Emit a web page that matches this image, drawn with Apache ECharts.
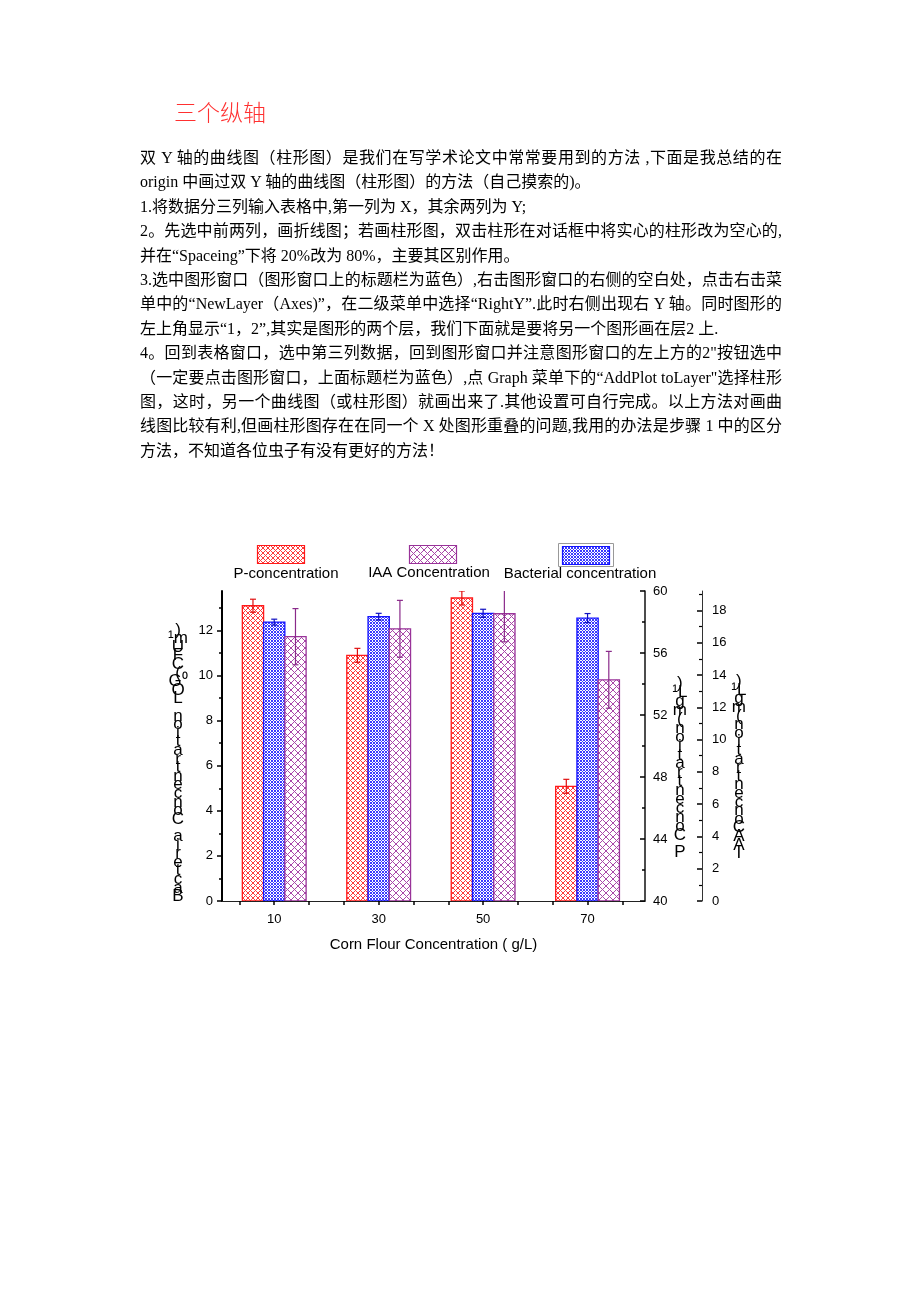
<!DOCTYPE html>
<html>
<head>
<meta charset="utf-8">
<script src="https://cdn.jsdelivr.net/npm/echarts@6/dist/echarts.min.js"></script>
<style>
html,body{margin:0;padding:0;background:#fff;}
#chart{position:absolute;left:0;top:0;width:920px;height:1302px;}
#title{position:absolute;left:174px;top:96px;font-size:23px;font-family:'Noto Sans CJK SC',sans-serif;font-weight:300;color:#ff3030;line-height:30px;white-space:nowrap;}
#doc{position:absolute;left:140px;top:146px;width:642px;font-size:16px;font-family:'Liberation Serif','Noto Sans CJK SC',serif;line-height:24.4px;color:#000;}
#doc div{white-space:nowrap;height:24.4px;}
#doc div.j{text-align:justify;text-align-last:justify;}
</style>
</head>
<body>
<div id="chart"></div>
<div id="title">三个纵轴</div>
<div id="doc">
<div class="j">双 Y 轴的曲线图（柱形图）是我们在写学术论文中常常要用到的方法 ,下面是我总结的在</div>
<div>origin 中画过双 Y 轴的曲线图（柱形图）的方法（自己摸索的)。</div>
<div>1.将数据分三列输入表格中,第一列为 X，其余两列为 Y;</div>
<div class="j">2。先选中前两列，画折线图；若画柱形图，双击柱形在对话框中将实心的柱形改为空心的,</div>
<div>并在“Spaceing”下将 20%改为 80%，主要其区别作用。</div>
<div class="j">3.选中图形窗口（图形窗口上的标题栏为蓝色）,右击图形窗口的右侧的空白处，点击右击菜</div>
<div class="j">单中的“NewLayer（Axes)”，在二级菜单中选择“RightY”.此时右侧出现右 Y 轴。同时图形的</div>
<div>左上角显示“1，2”,其实是图形的两个层，我们下面就是要将另一个图形画在层2 上.</div>
<div class="j">4。回到表格窗口，选中第三列数据，回到图形窗口并注意图形窗口的左上方的2"按钮选中</div>
<div class="j">（一定要点击图形窗口，上面标题栏为蓝色）,点 Graph 菜单下的“AddPlot toLayer"选择柱形</div>
<div class="j">图，这时，另一个曲线图（或柱形图）就画出来了.其他设置可自行完成。以上方法对画曲</div>
<div class="j">线图比较有利,但画柱形图存在在同一个 X 处图形重叠的问题,我用的办法是步骤 1 中的区分</div>
<div>方法，不知道各位虫子有没有更好的方法！</div>
</div>
<script>
// ---------------- data ----------------
const xValues = [10, 30, 50, 70];
const seriesNames = ['P-concentration', 'IAA Concentration', 'Bacterial concentration'];
const pConc = [59.05, 55.85, 59.55, 47.40];
const pErr = [0.42, 0.45, 0.45, 0.45];
const bactConc = [12.37, 12.61, 12.76, 12.55];
const bactErr = [0.13, 0.15, 0.18, 0.20];
const iaaConc = [16.37, 16.86, 17.79, 13.70];
const iaaErr = [1.74, 1.76, 1.74, 1.76];
const xTickValues = [3.333, 10, 16.667, 23.333, 30, 36.667, 43.333, 50, 56.667, 63.333, 70, 76.667];
const xLabelValues = [10, 30, 50, 70];
const leftTickValues = [0, 2, 4, 6, 8, 10, 12];
const pTickValues = [40, 44, 48, 52, 56, 60];
const iaaTickValues = [0, 2, 4, 6, 8, 10, 12, 14, 16, 18];
const xAxisName = 'Corn Flour Concentration ( g/L)';
const leftAxisName = [')', '¹m', 'U', 'F', 'C', '(', 'G⁰', 'O', 'L', ' ', 'n', 'o', 'i', 't', 'a', 'r', 't', 'n', 'e', 'c', 'n', 'o', 'C', ' ', 'a', 'i', 'r', 'e', 't', 'c', 'a', 'B'];
const pAxisName = [')', '¹L', 'g', 'm', '(', 'n', 'o', 'i', 't', 'a', 'r', 't', 'n', 'e', 'c', 'n', 'o', 'C', ' ', 'P'];
const iaaAxisName = [')', '¹L', 'g', 'm', '(', 'n', 'o', 'i', 't', 'a', 'r', 't', 'n', 'e', 'c', 'n', 'o', 'C', 'A', 'A', 'I'];

// ---------------- styles ----------------
const RED = '#ff1a1a', BLUE = '#1414ff', PURPLE = '#993399';
const BAR_W = 4.07; // bar width in x units
function makePattern(size, color) {
  const c = document.createElement('canvas');
  c.width = size; c.height = size;
  const ctx = c.getContext('2d');
  ctx.fillStyle = '#ffffff';
  ctx.fillRect(0, 0, size, size);
  ctx.fillStyle = color;
  for (let x = 0; x < size; x++) {
    for (let y = 0; y < size; y++) {
      if ((x + y) % size === 0 || (x - y + size) % size === 0) ctx.fillRect(x, y, 1, 1);
    }
  }
  return { image: c, repeat: 'repeat' };
}
const redPat = makePattern(5, '#ff3a3a');
const bluePat = makePattern(3, '#3a3aff');
const purplePat = makePattern(7, '#a848a8');

// vertical stacked axis name, shifted down by leading blank lines
function stackName(chars, shiftLines) {
  return new Array(shiftLines).fill('').concat(chars).join('\n');
}

function barSeries(name, vals, yAxisIndex, slot, pat, stroke) {
  return {
    type: 'custom', name: name, xAxisIndex: 0, yAxisIndex: yAxisIndex, clip: true, z: 2,
    data: xValues.map((x, i) => [x, vals[i]]),
    encode: { x: 0, y: 1 },
    renderItem: function (params, api) {
      const x = api.value(0) + slot * BAR_W;
      const v = api.value(1);
      const w = api.size([BAR_W, 0])[0];
      const top = api.coord([x, v]);
      const cs = params.coordSys;
      const base = cs.y + cs.height;
      return {
        type: 'rect',
        shape: { x: top[0] - w / 2, y: top[1], width: w, height: base - top[1] },
        style: { fill: pat, stroke: stroke, lineWidth: 1.3 }
      };
    }
  };
}
function errSeries(name, vals, errs, yAxisIndex, slot, color) {
  return {
    type: 'custom', name: name + ' error', xAxisIndex: 0, yAxisIndex: yAxisIndex, clip: true, z: 5,
    data: xValues.map((x, i) => [x, vals[i], errs[i]]),
    encode: { x: 0, y: 1 },
    renderItem: function (params, api) {
      const x = api.value(0) + slot * BAR_W;
      const v = api.value(1), e = api.value(2);
      const hi = api.coord([x, v + e]);
      const lo = api.coord([x, v - e]);
      const cap = 3;
      const st = { stroke: color, lineWidth: 1.2 };
      return {
        type: 'group',
        children: [
          { type: 'line', shape: { x1: hi[0], y1: hi[1], x2: lo[0], y2: lo[1] }, style: st },
          { type: 'line', shape: { x1: hi[0] - cap, y1: hi[1], x2: hi[0] + cap, y2: hi[1] }, style: st },
          { type: 'line', shape: { x1: lo[0] - cap, y1: lo[1], x2: lo[0] + cap, y2: lo[1] }, style: st }
        ]
      };
    }
  };
}

const FONT = 'Liberation Sans';
const labelStyle = { color: '#000', fontFamily: FONT, fontSize: 13 };

const chart = echarts.init(document.getElementById('chart'), null, { renderer: 'canvas' });
chart.setOption({
  animation: false,
  backgroundColor: 'transparent',
  grid: { left: 222, right: 275, top: 591, bottom: 401, containLabel: false },
  xAxis: {
    type: 'value', min: 0, max: 81,
    name: xAxisName, nameLocation: 'middle', nameGap: 36,
    nameTextStyle: { color: '#000', fontFamily: FONT, fontSize: 15 },
    axisLine: { show: true, lineStyle: { color: '#222', width: 1 } },
    axisTick: { show: true, customValues: xTickValues, length: 4, lineStyle: { color: '#000', width: 1.5 } },
    axisLabel: { customValues: xLabelValues, margin: 12, ...labelStyle },
    splitLine: { show: false }
  },
  yAxis: [
    {
      type: 'value', position: 'left', min: 0, max: 13.75, interval: 2,
      name: stackName(leftAxisName, 4), nameLocation: 'middle', nameGap: 44, nameRotate: 0,
      nameTextStyle: { color: '#000', fontFamily: FONT, fontSize: 17, lineHeight: 8.6, align: 'center', verticalAlign: 'middle' },
      axisLine: { show: true, lineStyle: { color: '#000', width: 2 } },
      axisTick: { show: true, customValues: leftTickValues, inside: false, length: 5, lineStyle: { color: '#000', width: 1.5 } },
      minorTick: { show: true, splitNumber: 2, length: 3, lineStyle: { color: '#000', width: 1.5 } },
      axisLabel: { customValues: leftTickValues, margin: 9, ...labelStyle },
      splitLine: { show: false }
    },
    {
      type: 'value', position: 'right', offset: 0, min: 40, max: 60, interval: 4,
      name: stackName(pAxisName, 5), nameLocation: 'middle', nameGap: 27, nameRotate: 0,
      nameTextStyle: { color: '#000', fontFamily: FONT, fontSize: 17, lineHeight: 8.9, align: 'center', verticalAlign: 'middle' },
      axisLine: { show: true, lineStyle: { color: '#111', width: 1.5 } },
      axisTick: { show: true, inside: true, length: 5, lineStyle: { color: '#000', width: 1.5 } },
      minorTick: { show: true, splitNumber: 2, length: 3, lineStyle: { color: '#000', width: 1.5 } },
      axisLabel: { margin: 8, ...labelStyle },
      splitLine: { show: false }
    },
    {
      type: 'value', position: 'right', offset: 57, min: 0, max: 19.2, interval: 2,
      name: stackName(iaaAxisName, 5), nameLocation: 'middle', nameGap: 35, nameRotate: 0,
      nameTextStyle: { color: '#000', fontFamily: FONT, fontSize: 17, lineHeight: 8.6, align: 'center', verticalAlign: 'middle' },
      axisLine: { show: true, lineStyle: { color: '#333', width: 1 } },
      axisTick: { show: true, customValues: iaaTickValues, inside: true, length: 5, lineStyle: { color: '#000', width: 1.5 } },
      minorTick: { show: true, splitNumber: 2, length: 3, lineStyle: { color: '#000', width: 1.2 } },
      axisLabel: { customValues: iaaTickValues, margin: 10, ...labelStyle },
      splitLine: { show: false }
    }
  ],
  graphic: [
    { type: 'rect', shape: { x: 257.5, y: 545.5, width: 47, height: 18 }, style: { fill: redPat, stroke: RED, lineWidth: 1.2 } },
    { type: 'text', style: { text: seriesNames[0], x: 286, y: 574, align: 'center', verticalAlign: 'middle', fontFamily: FONT, fontSize: 15, fill: '#000' } },
    { type: 'rect', shape: { x: 409.5, y: 545.5, width: 47, height: 18 }, style: { fill: purplePat, stroke: PURPLE, lineWidth: 1.2 } },
    { type: 'text', style: { text: seriesNames[1], x: 429, y: 573, align: 'center', verticalAlign: 'middle', fontFamily: FONT, fontSize: 15, fill: '#000' } },
    { type: 'rect', shape: { x: 558.5, y: 543.5, width: 55, height: 23 }, style: { fill: 'none', stroke: '#999', lineWidth: 1 } },
    { type: 'rect', shape: { x: 562.5, y: 546.5, width: 47, height: 18 }, style: { fill: bluePat, stroke: BLUE, lineWidth: 1.2 } },
    { type: 'text', style: { text: seriesNames[2], x: 580, y: 574, align: 'center', verticalAlign: 'middle', fontFamily: FONT, fontSize: 15, fill: '#000' } }
  ],
  series: [
    barSeries(seriesNames[0], pConc, 1, -1, redPat, RED),
    barSeries(seriesNames[2], bactConc, 0, 0, bluePat, BLUE),
    barSeries(seriesNames[1], iaaConc, 2, 1, purplePat, PURPLE),
    errSeries(seriesNames[0], pConc, pErr, 1, -1, '#e01010'),
    errSeries(seriesNames[2], bactConc, bactErr, 0, 0, '#1010c0'),
    errSeries(seriesNames[1], iaaConc, iaaErr, 2, 1, '#8a2a8a')
  ]
});
</script>
</body>
</html>
